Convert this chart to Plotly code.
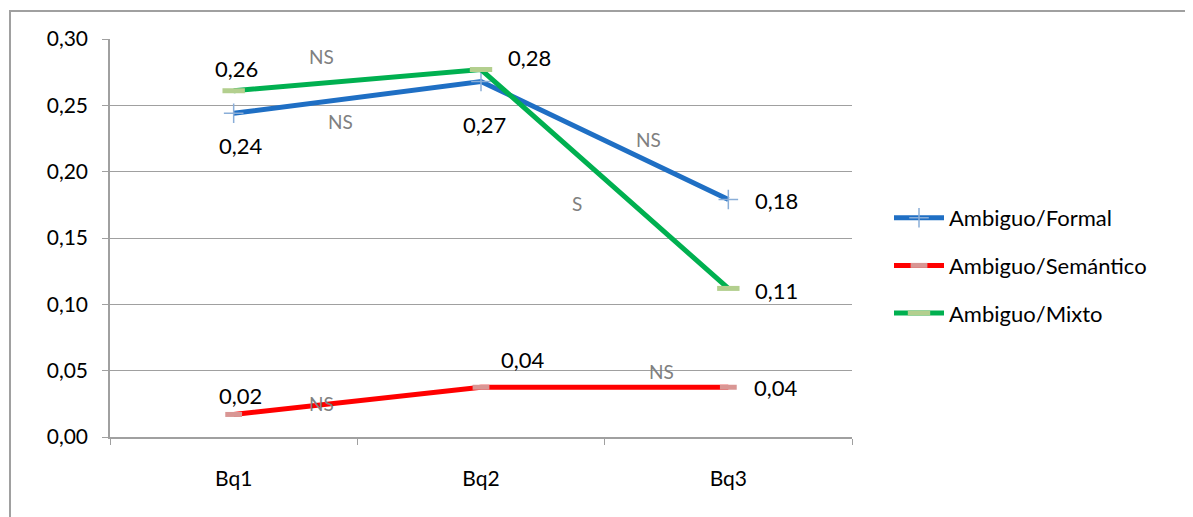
import plotly.graph_objects as go

categories = ["Bq1", "Bq2", "Bq3"]
formal = [0.244, 0.268, 0.179]
semantico = [0.017, 0.0375, 0.0375]
mixto = [0.261, 0.277, 0.112]
series_names = ["Ambiguo/Formal", "Ambiguo/Semántico", "Ambiguo/Mixto"]
y_ticks = [0.0, 0.05, 0.10, 0.15, 0.20, 0.25, 0.30]
y_tick_labels = ["0,00", "0,05", "0,10", "0,15", "0,20", "0,25", "0,30"]
sig_labels = ["NS", "NS", "NS", "S", "NS", "NS"]

FONT = "Lato, 'Open Sans', sans-serif"
OFF = 8  # page body margin
L, R, T, B = 110 - OFF, 852 - OFF, 39 - OFF, 437 - OFF
W, H = 1193 - OFF, 517 - OFF

fig = go.Figure()
fig.add_trace(go.Scatter(
    x=categories, y=formal, name=series_names[0], mode="lines+markers",
    legendgroup="g1",
    line=dict(color="#1f6fc4", width=5),
    marker=dict(symbol="cross-thin", size=14, color="#8aaed8",
                line=dict(color="#8aaed8", width=1.5)),
))
fig.add_trace(go.Scatter(
    x=categories, y=semantico, name=series_names[1], mode="lines+markers",
    legendgroup="g2",
    line=dict(color="#ff0000", width=5),
    marker=dict(symbol="line-ew", size=12, color="#d99694",
                line=dict(color="#d99694", width=5)),
))
fig.add_trace(go.Scatter(
    x=categories, y=mixto, name=series_names[2], mode="lines+markers",
    legendgroup="g3",
    line=dict(color="#00b050", width=5),
    marker=dict(symbol="line-ew", size=16, color="#b3cf8e",
                line=dict(color="#b3cf8e", width=5)),
))

def fmt(v):
    return f"{v:.2f}".replace(".", ",")

# data labels: (series, index, xshift, yshift)
label_specs = [
    (formal, 0, 7, -32), (formal, 1, 3, -43), (formal, 2, 48, -1),
    (semantico, 0, 7, 19), (semantico, 1, 42, 28), (semantico, 2, 48, 0),
    (mixto, 0, 3, 22), (mixto, 1, 48, 12), (mixto, 2, 48, -2),
]
annotations = []
for s, i, xs, ys in label_specs:
    annotations.append(dict(
        x=categories[i], y=s[i], xref="x", yref="y", text=fmt(s[i]),
        showarrow=False, xshift=xs, yshift=ys,
        font=dict(family=FONT, size=22, color="#000000"),
    ))

sig_pos = [(0.356, 0.287), (0.433, 0.238), (1.678, 0.224), (1.387, 0.176),
           (0.356, 0.0249), (1.731, 0.0497)]
for t, (xx, yy) in zip(sig_labels, sig_pos):
    annotations.append(dict(
        x=xx, y=yy, xref="x", yref="y", text=t, showarrow=False,
        font=dict(family=FONT, size=19, color="#808080"),
    ))

pw, ph = R - L, B - T
def px(x):  # page x -> paper
    return (x - OFF - L) / pw
def py(y):  # page y -> paper
    return (B - (y - OFF)) / ph

fig.update_layout(
    width=W, height=H,
    margin=dict(l=L, r=W - R, t=T, b=H - B, pad=0),
    paper_bgcolor="white", plot_bgcolor="white",
    font=dict(family=FONT, size=21, color="#000000"),
    showlegend=True,
    legend=dict(x=px(889), y=py(197), xanchor="left", yanchor="top",
                font=dict(family=FONT, size=22, color="#000000"),
                itemwidth=50, tracegroupgap=16, bgcolor="rgba(0,0,0,0)"),
    annotations=annotations,
    shapes=[dict(type="rect", xref="paper", yref="paper",
                 x0=px(10), y0=py(540), x1=px(1220), y1=py(11),
                 line=dict(color="#a0a0a0", width=2), fillcolor="rgba(0,0,0,0)",
                 layer="below")],
)
fig.update_xaxes(
    type="category", range=[-0.5, 2.5], showgrid=False,
    showline=True, linecolor="#a0a0a0", linewidth=1.5,
    ticks="outside", tickson="boundaries", ticklen=6, tickcolor="#a0a0a0",
    tickfont=dict(family=FONT, size=21, color="#000000"), ticklabelstandoff=22,
    zeroline=False,
)
fig.update_yaxes(
    range=[0, 0.30], tickvals=y_ticks, ticktext=y_tick_labels,
    showgrid=True, gridcolor="#a0a0a0", gridwidth=1.2,
    showline=True, linecolor="#a0a0a0", linewidth=1.5,
    ticks="outside", ticklen=6, tickcolor="#a0a0a0",
    tickfont=dict(family=FONT, size=21, color="#000000"), ticklabelstandoff=10,
    zeroline=False,
)
fig.write_html("out.html")
